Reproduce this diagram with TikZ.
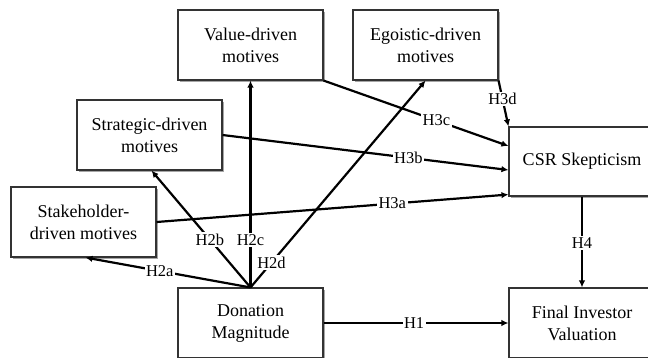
\documentclass[tikz,border=0pt]{standalone}
\usepackage{fontspec}
\setmainfont{Liberation Serif}
\usetikzlibrary{arrows.meta,shadows}
\begin{document}
\begin{tikzpicture}[x=1pt,y=-1pt,
  box/.style={draw=black!80,line width=1.1pt,fill=white,minimum width=145pt,minimum height=70pt,
    align=center,inner sep=2pt,font=\fontsize{18}{22}\selectfont,
    drop shadow={shadow xshift=1.6pt,shadow yshift=-1.6pt,fill=black!50,opacity=0.7}},
  arr/.style={line width=2.2pt,-{Latex[length=7pt,width=6.5pt]}},
  lab/.style={fill=white,inner sep=1.5pt,font=\fontsize{16.5}{18}\selectfont}]
\useasboundingbox (0,0) rectangle (648,357);
\clip (0,0) rectangle (648,357);
\node[box] (val) at (250.5,45) {Value-driven\\motives};
\node[box] (ego) at (425.5,45) {Egoistic-driven\\motives};
\node[box] (str) at (149.5,135) {Strategic-driven\\motives};
\node[box] (stk) at (83.5,222) {Stakeholder-\\driven motives};
\node[box] (don) at (250.5,323) {Donation\\Magnitude};
\node[box,minimum width=146pt,minimum height=69pt] (csr) at (582,161.5) {CSR Skepticism};
\node[box,minimum width=146pt] (fin) at (582,323) {Final Investor\\Valuation};
\draw[arr] (don.east) -- node[lab,pos=0.49] {H1} (fin.west);
\draw[arr] (csr.south) -- node[lab,pos=0.51] {H4} (fin.north);
\draw[arr] (don.north) -- node[lab,pos=0.55] {H2a} ([xshift=2pt]stk.south);
\draw[arr] (don.north) -- node[lab,pos=0.41] {H2b} ([xshift=2pt]str.south);
\draw[arr] (don.north) -- node[lab,pos=0.23] {H2c} (val.south);
\draw[arr] (don.north) -- node[lab,pos=0.12] {H2d} (ego.south);
\draw[arr] (stk.east) -- node[lab,pos=0.67] {H3a} ([yshift=2pt]csr.south west);
\draw[arr] (str.east) -- node[lab,pos=0.65] {H3b} ([yshift=-8.5pt]csr.west);
\draw[arr] (val.south east) -- node[lab,pos=0.61] {H3c} ([yshift=15.5pt]csr.west);
\draw[arr] (ego.south east) -- node[lab,pos=0.4] {H3d} (csr.north west);
\end{tikzpicture}
\end{document}
